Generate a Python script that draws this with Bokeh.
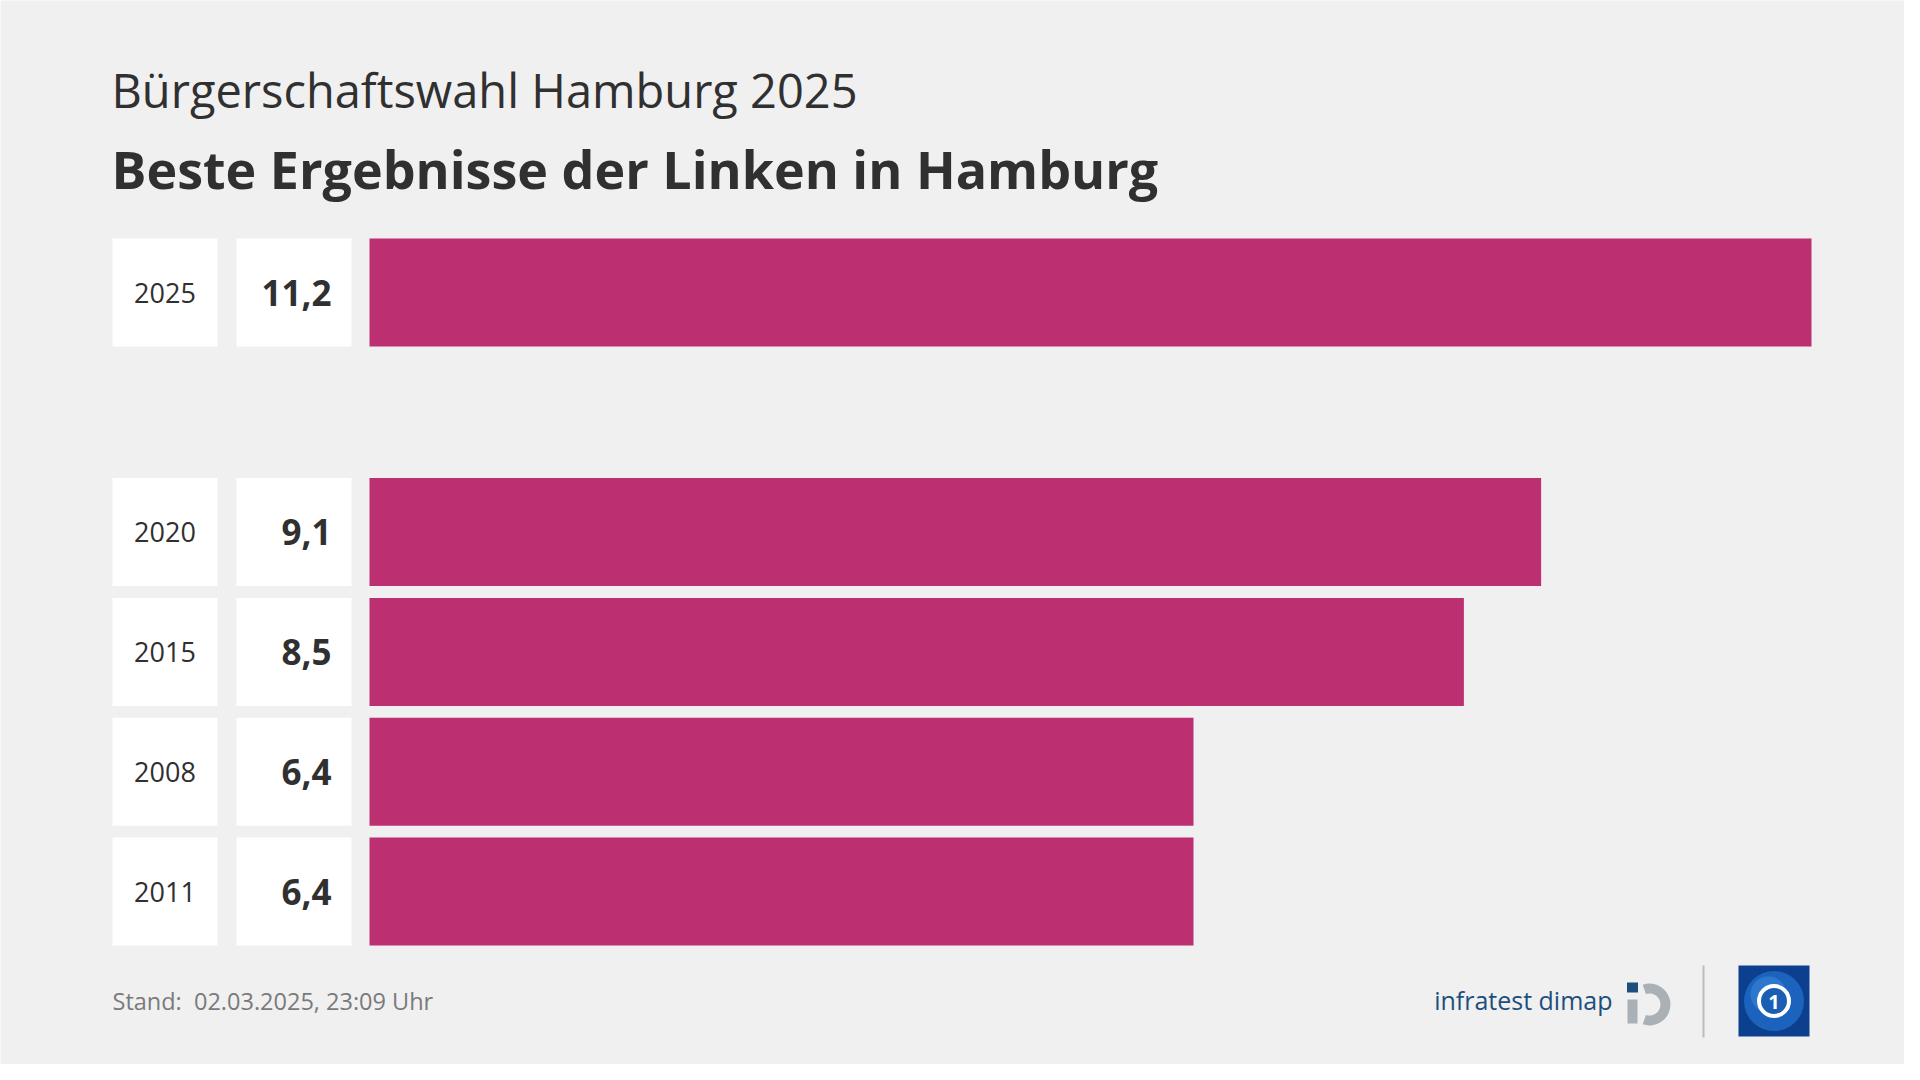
from bokeh.plotting import figure
from bokeh.models import Range1d
from bokeh.core.properties import value
from bokeh.embed import file_html
from bokeh.resources import INLINE

# ---------------- data ----------------
years = ["2025", "2020", "2015", "2008", "2011"]
results = [11.2, 9.1, 8.5, 6.4, 6.4]
slots = [0, 2, 3, 4, 5]          # row slot (one empty slot after 2025)
subtitle = "Bürgerschaftswahl Hamburg 2025"
title = "Beste Ergebnisse der Linken in Hamburg"
footer = "Stand: \u00a002.03.2025, 23:09 Uhr"
brand = "infratest dimap"

# ---------------- layout (pixels) ----------------
W, H = 1904, 1064
BAR_X0, BAR_X1 = 369, 1811
ROW_TOP0, ROW_PITCH, ROW_H = 238, 119.8, 108
BG = "#f0f0f0"
BAR_COLOR = "#bc2f70"
TEXT = "#303030"
FONT = "Open Sans"

k = (BAR_X1 - BAR_X0) / max(results)
x_start = -BAR_X0 / k
x_end = max(results) + (W - BAR_X1) / k

p = figure(width=W, height=H, output_backend="svg", toolbar_location=None,
           x_range=Range1d(x_start, x_end),
           y_range=Range1d(H, 0),
           min_border=0, min_border_left=0, min_border_right=0,
           min_border_top=0, min_border_bottom=0)
p.extra_x_ranges = {"px": Range1d(0, W)}
p.axis.visible = False
p.xgrid.visible = False
p.ygrid.visible = False
p.outline_line_color = None
p.background_fill_color = BG
p.border_fill_color = BG

centers = [ROW_TOP0 + s * ROW_PITCH + ROW_H / 2 for s in slots]
labels = [f"{v:.1f}".replace(".", ",") for v in results]

# bars
p.hbar(y=centers, left=0, right=results, height=ROW_H,
       fill_color=BAR_COLOR, line_color=None)

# label boxes
p.rect(x=[164.5] * len(years), y=centers, width=105, height=ROW_H,
       fill_color="white", line_color=None, x_range_name="px")
p.rect(x=[293.5] * len(years), y=centers, width=115, height=ROW_H,
       fill_color="white", line_color=None, x_range_name="px")

p.text(x=[164.5] * len(years), y=centers, text=years,
       text_font=value(FONT), text_font_size="27px", text_color=TEXT,
       text_align="center", text_baseline="middle", x_range_name="px")
p.text(x=[331] * len(years), y=centers, text=labels,
       text_font=value(FONT), text_font_size="35px", text_font_style="bold",
       text_color=TEXT, text_align="right", text_baseline="middle",
       x_range_name="px")

# titles
p.text(x=[111], y=[89], text=[subtitle], text_font=value(FONT),
       text_font_size="47px", text_color=TEXT, text_baseline="middle",
       x_range_name="px")
p.text(x=[111], y=[168], text=[title], text_font=value(FONT),
       text_font_size="52px", text_font_style="bold", text_color=TEXT,
       text_baseline="middle", x_range_name="px")

# footer
p.text(x=[112], y=[1000], text=[footer], text_font=value(FONT),
       text_font_size="23.5px", text_color="#7a7a7a", text_baseline="middle",
       x_range_name="px")

# infratest dimap logo
p.text(x=[1612], y=[999], text=[brand], text_font=value(FONT),
       text_font_size="25px", text_color="#1d4f7c", text_align="right",
       text_baseline="middle", x_range_name="px")
p.annular_wedge(x=[1649], y=[1004], inner_radius=11, outer_radius=21,
                start_angle=1.9, end_angle=-1.9, direction="clock",
                fill_color="#a9b0b6", line_color=None, x_range_name="px")
p.rect(x=[1632], y=[987], width=11, height=10, fill_color="#1d4f7c",
       line_color=None, x_range_name="px")
p.rect(x=[1632], y=[1011], width=10, height=24, fill_color="#a9b0b6",
       line_color=None, x_range_name="px")

# separator
p.segment(x0=[1703], y0=[965], x1=[1703], y1=[1037], line_color="#bcbcbc",
          line_width=2, x_range_name="px")

# ARD logo
p.rect(x=[1773.5], y=[1000.5], width=71, height=71, fill_color="#0d3f8f",
       line_color=None, x_range_name="px")
p.circle(x=[1773.5], y=[1000.5], radius=30, fill_color="#1c63bd",
         line_color=None, x_range_name="px")
p.circle(x=[1768], y=[994], radius=18, fill_color="#3a86da",
         fill_alpha=0.6, line_color=None, x_range_name="px")
p.circle(x=[1773.5], y=[1000.5], radius=15, fill_color="#1a5fb4",
         line_color="white", line_width=4, x_range_name="px")
p.text(x=[1773.5], y=[1001], text=["1"], text_font=value(FONT),
       text_font_size="20px", text_font_style="bold", text_color="white",
       text_align="center", text_baseline="middle", x_range_name="px")

open("out.html", "w").write(file_html(p, INLINE))
